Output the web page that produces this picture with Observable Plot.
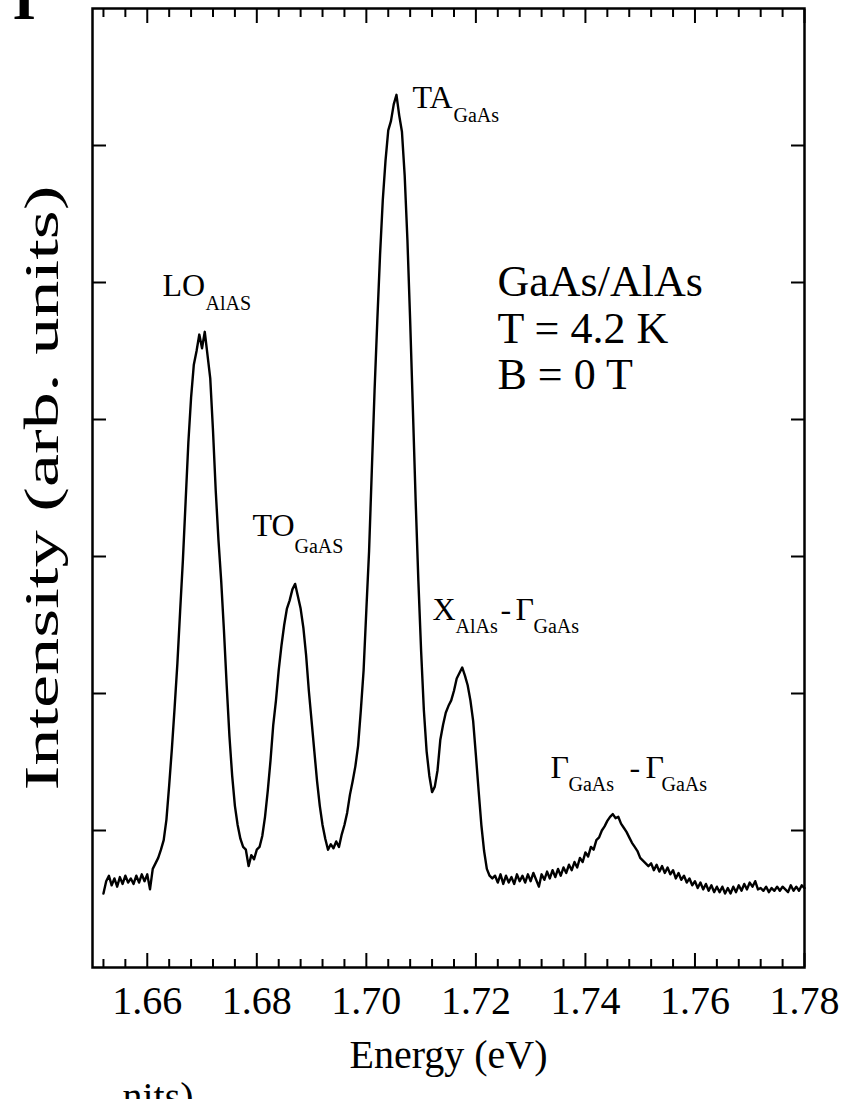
<!DOCTYPE html>
<html>
<head>
<meta charset="utf-8">
<script src="https://cdn.jsdelivr.net/npm/d3@7"></script>
<script src="https://cdn.jsdelivr.net/npm/@observablehq/plot@0.6"></script>
<style>
  html, body { margin: 0; padding: 0; background: #fff; }
  #chart svg { display: block; }
</style>
</head>
<body>
<div id="chart"></div>
<script>
const energyStart = 1.652;
const energyStep = 0.0005;
const intensity = [
  0.54, 0.63, 0.67, 0.60, 0.65, 0.59, 0.66, 0.61, 0.67, 0.62,
  0.65, 0.61, 0.67, 0.62, 0.68, 0.63, 0.68, 0.57, 0.72, 0.76,
  0.80, 0.86, 0.93, 1.08, 1.33, 1.60, 1.90, 2.22, 2.60, 2.97,
  3.40, 3.83, 4.16, 4.40, 4.50, 4.62, 4.52, 4.64, 4.47, 4.30,
  3.92, 3.48, 3.12, 2.82, 2.46, 2.06, 1.69, 1.40, 1.18, 1.04,
  0.94, 0.88, 0.86, 0.74, 0.82, 0.79, 0.86, 0.88, 0.96, 1.10,
  1.29, 1.51, 1.77, 1.95, 2.17, 2.35, 2.50, 2.62, 2.68, 2.76,
  2.80, 2.71, 2.62, 2.48, 2.28, 2.02, 1.80, 1.58, 1.36, 1.18,
  1.04, 0.94, 0.86, 0.90, 0.87, 0.92, 0.88, 0.97, 1.04, 1.13,
  1.26, 1.36, 1.47, 1.62, 1.88, 2.17, 2.61, 3.04, 3.63, 4.21,
  4.72, 5.20, 5.60, 5.89, 6.11, 6.18, 6.30, 6.37, 6.22, 6.10,
  5.78, 5.31, 4.72, 4.07, 3.41, 2.82, 2.31, 1.88, 1.58, 1.40,
  1.28, 1.32, 1.44, 1.66, 1.77, 1.86, 1.91, 1.95, 2.02, 2.11,
  2.15, 2.19, 2.13, 2.06, 1.95, 1.80, 1.55, 1.29, 1.04, 0.85,
  0.72, 0.67, 0.65, 0.67, 0.62, 0.68, 0.61, 0.67, 0.62, 0.66,
  0.61, 0.68, 0.63, 0.67, 0.62, 0.68, 0.63, 0.69, 0.64, 0.59,
  0.68, 0.64, 0.70, 0.65, 0.71, 0.66, 0.72, 0.67, 0.73, 0.69,
  0.75, 0.71, 0.77, 0.73, 0.80, 0.77, 0.84, 0.81, 0.88, 0.86,
  0.93, 0.95, 1.00, 1.03, 1.07, 1.10, 1.12, 1.09, 1.10, 1.05,
  1.02, 0.99, 0.95, 0.91, 0.88, 0.85, 0.80, 0.78, 0.76, 0.74,
  0.76, 0.71, 0.75, 0.70, 0.74, 0.69, 0.73, 0.68, 0.71, 0.65,
  0.69, 0.64, 0.67, 0.62, 0.65, 0.60, 0.63, 0.58, 0.62, 0.57,
  0.61, 0.56, 0.60, 0.55, 0.59, 0.55, 0.59, 0.54, 0.58, 0.54,
  0.59, 0.55, 0.60, 0.56, 0.61, 0.57, 0.62, 0.59, 0.63, 0.57,
  0.58, 0.56, 0.59, 0.55, 0.58, 0.56, 0.59, 0.56, 0.59, 0.57,
  0.55, 0.60, 0.56, 0.59, 0.56, 0.60, 0.58
];

// Axis ticks
const xMajorTicks = [1.66, 1.68, 1.70, 1.72, 1.74, 1.76, 1.78];
const xMinorTicks = [1.652, 1.656, 1.664, 1.668, 1.672, 1.676, 1.684, 1.688, 1.692, 1.696,
                     1.704, 1.708, 1.712, 1.716, 1.724, 1.728, 1.732, 1.736, 1.744, 1.748,
                     1.752, 1.756, 1.764, 1.768, 1.772, 1.776];
const yTicks = [1, 2, 3, 4, 5, 6];

// Peak labels (main part) and their subscripts, anchored in data coordinates
const peakText = ["LO", "TO", "TA", "X", "-", "Γ", "Γ", "-", "Γ"];
const peakE = [1.66278, 1.67921, 1.70843, 1.71208, 1.72449, 1.72723, 1.73362, 1.74805, 1.75097];
const peakI = [4.905, 3.153, 6.277, 2.533, 2.533, 2.533, 1.380, 1.380, 1.380];
const subText = ["AlAS", "GaAS", "GaAs", "AlAs", "GaAs", "GaAs", "GaAs"];
const subE = [1.67063, 1.68688, 1.71591, 1.71628, 1.73052, 1.73691, 1.75389];
const subI = [4.796, 3.029, 6.168, 2.445, 2.445, 1.290, 1.290];

// Sample annotation
const noteText = ["GaAs/AlAs", "T = 4.2 K", "B = 0 T"];
const noteE = [1.72395, 1.72395, 1.72395];
const noteI = [4.905, 4.562, 4.219];

const spectrum = intensity.map((v, i) => ({ e: +(energyStart + i * energyStep).toFixed(4), v }));
const peaks = peakText.map((t, i) => ({ t, e: peakE[i], v: peakI[i] }));
const subs = subText.map((t, i) => ({ t, e: subE[i], v: subI[i] }));
const notes = noteText.map((t, i) => ({ t, e: noteE[i], v: noteI[i] }));

const serif = "'Liberation Serif', 'Times New Roman', Times, serif";
const yLabel = "Intensity (arb. units)";

const chart = Plot.plot({
  width: 860,
  height: 1099,
  marginLeft: 92,
  marginRight: 56,
  marginTop: 8,
  marginBottom: 132,
  style: { fontFamily: serif, background: "#fff", color: "#000", overflow: "visible" },
  x: { domain: [1.650, 1.780] },
  y: { domain: [0, 7] },
  marks: [
    Plot.frame({ stroke: "#000", strokeWidth: 2.5 }),
    Plot.axisX({ anchor: "bottom", ticks: xMajorTicks, tickSize: -14, text: null, strokeWidth: 2, label: null }),
    Plot.axisX({ anchor: "bottom", ticks: xMinorTicks, tickSize: -8, text: null, strokeWidth: 2, label: null }),
    Plot.axisX({ anchor: "top", ticks: xMajorTicks, tickSize: -14, text: null, strokeWidth: 2, label: null }),
    Plot.axisX({ anchor: "top", ticks: xMinorTicks, tickSize: -8, text: null, strokeWidth: 2, label: null }),
    Plot.axisX({ anchor: "bottom", ticks: xMajorTicks, tickSize: 0, tickPadding: 18,
                 tickFormat: d => d.toFixed(2), fontSize: 40, fontFamily: serif, fill: "#000", label: null }),
    Plot.axisY({ anchor: "left", ticks: yTicks, tickSize: -14, text: null, strokeWidth: 2, label: null }),
    Plot.axisY({ anchor: "right", ticks: yTicks, tickSize: -14, text: null, strokeWidth: 2, label: null }),
    Plot.line(spectrum, { x: "e", y: "v", stroke: "#000", strokeWidth: 2.4, strokeLinejoin: "round" }),
    Plot.text(peaks, { x: "e", y: "v", text: "t", textAnchor: "start", lineAnchor: "bottom",
                       fontSize: 32, fontFamily: serif, fill: "#000" }),
    Plot.text(subs, { x: "e", y: "v", text: "t", textAnchor: "start", lineAnchor: "bottom",
                      fontSize: 20, fontFamily: serif, fill: "#000" }),
    Plot.text(notes, { x: "e", y: "v", text: "t", textAnchor: "start", lineAnchor: "bottom",
                       fontSize: 44, fontFamily: serif, fill: "#000" }),
    Plot.text([yLabel], { frameAnchor: "left", dx: -50, rotate: -90,
                       textAnchor: "middle", lineAnchor: "middle",
                       fontSize: 48, fontFamily: serif, fill: "#000" }),
    Plot.text(["Energy (eV)"], { frameAnchor: "bottom", dy: 100, lineAnchor: "bottom",
                       fontSize: 40, fontFamily: serif, fill: "#000" }),
    Plot.text(["I"], { frameAnchor: "top-left", dx: -80, dy: 10, lineAnchor: "bottom",
                       fontSize: 60, fontWeight: "bold", fontFamily: serif, fill: "#000" }),
    Plot.text(["nits)"], { frameAnchor: "bottom-left", dx: 30, dy: 142, textAnchor: "start", lineAnchor: "bottom",
                       fontSize: 40, fontFamily: serif, fill: "#000" })
  ]
});

// The reference's y label is drawn stretched along its length
d3.select(chart).selectAll("text")
  .filter(function () { return this.textContent === yLabel; })
  .attr("textLength", 605)
  .attr("lengthAdjust", "spacingAndGlyphs");

document.getElementById("chart").appendChild(chart);
</script>
</body>
</html>
